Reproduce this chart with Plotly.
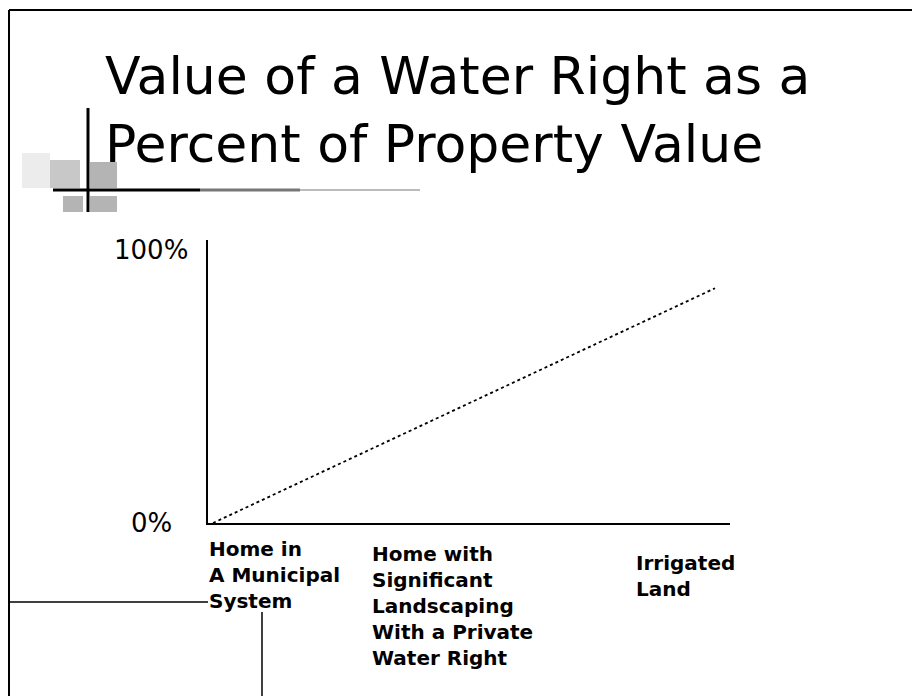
import plotly.graph_objects as go

# page body has an 8px margin, so the figure is 8px smaller and coords shifted
OFF = 8
W, H = 920 - OFF, 696 - OFF

# ---- data ----
categories = ["Home in<br>A Municipal<br>System",
              "Home with<br>Significant<br>Landscaping<br>With a Private<br>Water Right",
              "Irrigated<br>Land"]
line_x = [0, 1]          # from first to last category
line_y = [0, 86]         # percent of property value
y_ticks = [0, 100]
y_tick_text = ["0%", "100%"]
title_lines = ["Value of a Water Right as a", "Percent of Property Value"]

# ---- layout helpers (page pixel -> paper) ----
def px(x):
    return (x - OFF) / W

def py(y):
    return 1 - (y - OFF) / H

fig = go.Figure()
fig.add_trace(go.Scatter(
    x=line_x, y=line_y, mode="lines",
    line=dict(color="black", width=1.8, dash="3px,3px"),
    hoverinfo="skip", showlegend=False))

x0_px, x1_px = 213, 715
scale = (x1_px - x0_px)
ax_left, ax_right = 208, 730
y_bottom, y_top, y100 = 523, 240, 250

fig.update_xaxes(domain=[px(ax_left), px(ax_right)],
                 range=[(ax_left - x0_px) / scale, 1 + (ax_right - x1_px) / scale],
                 showline=True, linecolor="black", linewidth=2,
                 showgrid=False, zeroline=False, showticklabels=False, ticks="")
fig.update_yaxes(domain=[py(y_bottom), py(y_top)],
                 range=[0, 100 * (y_bottom - y_top) / (y_bottom - y100)],
                 showline=True, linecolor="black", linewidth=2,
                 showgrid=False, zeroline=False, showticklabels=False, ticks="")

annotations = []
# title
annotations.append(dict(text="<br>".join(title_lines), x=px(103), y=py(44),
                        xref="paper", yref="paper", xanchor="left", yanchor="top",
                        align="left", showarrow=False,
                        font=dict(family="DejaVu Sans", size=52, color="black")))
# y tick labels
for v, t in zip(y_ticks, y_tick_text):
    annotations.append(dict(text=t, x=px(151), y=v, xref="paper", yref="y",
                            xanchor="center", yanchor="middle", showarrow=False,
                            font=dict(family="DejaVu Sans", size=26, color="black")))
# category labels
label_px = [(207, 535), (370, 540), (634, 549)]
for cat, (lx, ly) in zip(categories, label_px):
    annotations.append(dict(text="<b>" + cat + "</b>", x=px(lx), y=py(ly),
                            xref="paper", yref="paper", xanchor="left", yanchor="top",
                            align="left", showarrow=False,
                            font=dict(family="DejaVu Sans", size=20, color="black")))

shapes = []
def seg(x0, y0, x1, y1, w=2, c="black"):
    shapes.append(dict(type="line", xref="paper", yref="paper",
                       x0=px(x0), y0=py(y0), x1=px(x1), y1=py(y1),
                       line=dict(color=c, width=w)))

def box(x0, y0, x1, y1, c):
    shapes.append(dict(type="rect", xref="paper", yref="paper",
                       x0=px(x0), y0=py(y0), x1=px(x1), y1=py(y1),
                       line=dict(width=0), fillcolor=c, layer="below"))

# slide frame
seg(9, 10, 9, 696, 2)
seg(9, 10, 920, 10, 2)
# decoration squares
box(50, 160, 80, 188, "#c8c8c8")
box(22, 153, 50, 188, "#ececec")
box(90, 162, 117, 188, "#b4b4b4")
box(63, 196, 83, 212, "#b4b4b4")
box(90, 196, 117, 212, "#b4b4b4")
# decoration lines
seg(88, 108, 88, 212, 3)
seg(53, 190, 200, 190, 3)
seg(200, 190, 300, 190, 3, "#777777")
seg(300, 190, 420, 190, 2, "#bbbbbb")
# bottom connector lines
seg(9, 602, 208, 602, 1.5)
seg(262, 612, 262, 696, 1.5)

fig.update_layout(width=W, height=H, margin=dict(l=0, r=0, t=0, b=0),
                  paper_bgcolor="white", plot_bgcolor="white",
                  annotations=annotations, shapes=shapes, showlegend=False)

fig.write_html("out.html")
